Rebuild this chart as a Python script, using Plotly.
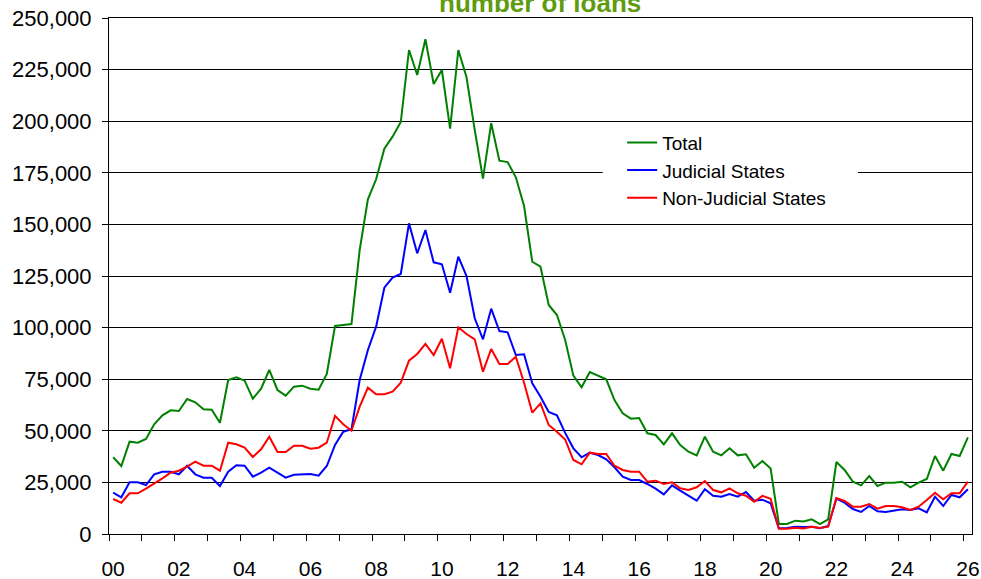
import plotly.graph_objects as go

# Quarterly data, 2000Q1 .. 2026Q1
quarters = [f"{y}Q{q}" for y in range(2000, 2027) for q in range(1, 5)][:105]

total = [
    37160, 32950, 44720, 44240, 46030, 53150, 57500, 59930, 59600, 65400,
    63800, 60400, 60230, 53930, 74600, 75900, 74280, 65560, 70400, 79460,
    69770, 67020, 71380, 71860, 70400, 69920, 77520, 100780, 101260, 101740,
    137600, 162150, 171850, 186700, 192500, 199600, 234500, 222400, 239700, 218000,
    224800, 196400, 234500, 221300, 195700, 172150, 199000, 180900, 180200, 172800,
    158900, 131900, 129500, 110950, 106100, 94000, 76700, 71060, 78500, 76900,
    74950, 64900, 58470, 55870, 56200, 48780, 47960, 43450, 48780, 43120,
    39880, 38110, 47150, 39880, 38110, 41510, 38110, 38600, 32130, 35370,
    31730, 4845, 4845, 6460, 6060, 7100, 4845, 7100, 34880, 31000,
    25350, 23590, 28100, 23260, 24870, 24870, 25350, 22600, 24870, 26650,
    37790, 30680, 38760, 37790, 46830,
]

judicial = [
    20020, 17770, 25050, 25050, 23740, 28920, 30180, 30180, 28920, 33090,
    28920, 27280, 27280, 23260, 30180, 33280, 33090, 27760, 29700, 32130,
    29700, 27280, 28730, 29070, 29070, 28250, 32950, 43120, 49560, 50720,
    74600, 89150, 100440, 119330, 124180, 125970, 150500, 136000, 147300, 131640,
    130670, 116920, 134350, 125000, 104500, 94330, 109160, 98350, 97720, 86730,
    87060, 73010, 66520, 59110, 57490, 49000, 41510, 37160, 39400, 38280,
    36190, 32310, 27760, 26160, 26160, 24230, 21950, 19230, 23590, 20980,
    18560, 16130, 21660, 18560, 18070, 19380, 18070, 20350, 16130, 16640,
    14870, 2760, 2920, 3540, 3380, 3540, 2760, 3876, 17100, 15170,
    12110, 10660, 13570, 11000, 10660, 11140, 11960, 11630, 12450, 10510,
    18070, 13570, 18900, 17770, 21660,
]

non_judicial = [
    16960, 15170, 19720, 19720, 21950, 24370, 26990, 29700, 30680, 32610,
    35030, 33090, 33090, 30680, 44240, 43460, 41830, 37300, 41030, 47150,
    39730, 39730, 42780, 42780, 41330, 41830, 44240, 57240, 53200, 50050,
    61680, 70880, 67680, 67680, 68940, 73300, 83970, 87210, 92060, 86730,
    94630, 80270, 100140, 96900, 94330, 78630, 89630, 82370, 82370, 85900,
    73300, 58780, 63300, 52810, 49560, 45800, 35850, 33770, 39400, 38760,
    38760, 33090, 31010, 30190, 30190, 25350, 25830, 24230, 25050, 22140,
    21320, 22620, 25680, 21320, 20200, 22140, 19720, 18560, 15650, 18490,
    17030, 2500, 2500, 2990, 2670, 3540, 2900, 3540, 17440, 15990,
    13230, 13230, 14540, 12260, 13570, 13570, 12920, 11630, 13230, 16470,
    20010, 16810, 19720, 19720, 25350,
]

tick_years = list(range(2000, 2027, 2))
tick_labels = [f"{y % 100:02d}" for y in tick_years]

# quarter midpoints as fractional years
x = [int(s[:4]) + (int(s[-1]) - 0.5) / 4 for s in quarters]

FONT = "Liberation Sans, Arial, sans-serif"

fig = go.Figure()
fig.add_trace(go.Scatter(x=x, y=total, mode="lines", name="Total",
                         line=dict(color="#008000", width=2)))
fig.add_trace(go.Scatter(x=x, y=judicial, mode="lines", name="Judicial States",
                         line=dict(color="#0000FF", width=2)))
fig.add_trace(go.Scatter(x=x, y=non_judicial, mode="lines", name="Non-Judicial States",
                         line=dict(color="#FF0000", width=2)))

fig.update_layout(
    width=981, height=579,
    margin=dict(l=109, r=9, t=18, b=45, autoexpand=False),
    paper_bgcolor="white", plot_bgcolor="white",
    font=dict(family=FONT, size=20, color="black"),
    showlegend=True,
    legend=dict(x=0.5946, y=0.7954, xanchor="left", yanchor="top",
                bgcolor="rgba(0,0,0,0)", borderwidth=0,
                font=dict(family=FONT, size=19, color="black")),
    xaxis=dict(
        range=[2000, 2026.25],
        automargin=False,
        tickmode="array",
        tickvals=[y + 0.125 for y in tick_years],
        ticktext=tick_labels,
        ticks="outside", ticklen=6, tickcolor="rgba(0,0,0,0)",
        showgrid=False, zeroline=False,
        showline=True, linecolor="black", linewidth=1, mirror=True,
        minor=dict(ticks="outside", ticklen=6, tickcolor="black", tickwidth=1,
                   tick0=2000, dtick=1, showgrid=False),
        tickfont=dict(family=FONT, size=21),
        ticklabelstandoff=10,
    ),
    yaxis=dict(
        range=[0, 250000],
        automargin=False,
        tickmode="linear", tick0=0, dtick=25000,
        tickformat=",d",
        ticks="outside", ticklen=6, tickcolor="black",
        showgrid=True, gridcolor="black", gridwidth=1,
        zeroline=False,
        showline=True, linecolor="black", linewidth=1, mirror=True,
        tickfont=dict(family=FONT, size=22),
        ticklabelstandoff=6,
    ),
    shapes=[dict(type="rect", xref="x", yref="y", layer="between",
                 x0=2015.02, x1=2022.78, y0=153100, y1=198100,
                 fillcolor="white", line=dict(width=0))],
    annotations=[dict(text="<b>number of loans</b>", xref="paper", yref="paper",
                      x=0.4997, y=1.029, xanchor="center", yanchor="middle",
                      showarrow=False,
                      font=dict(family=FONT, size=26, color="#5f9b0f"))],
)

fig.write_html("out.html",
               config={"displayModeBar": False},
               post_script="document.body.style.margin='0';document.body.style.overflow='hidden';")
